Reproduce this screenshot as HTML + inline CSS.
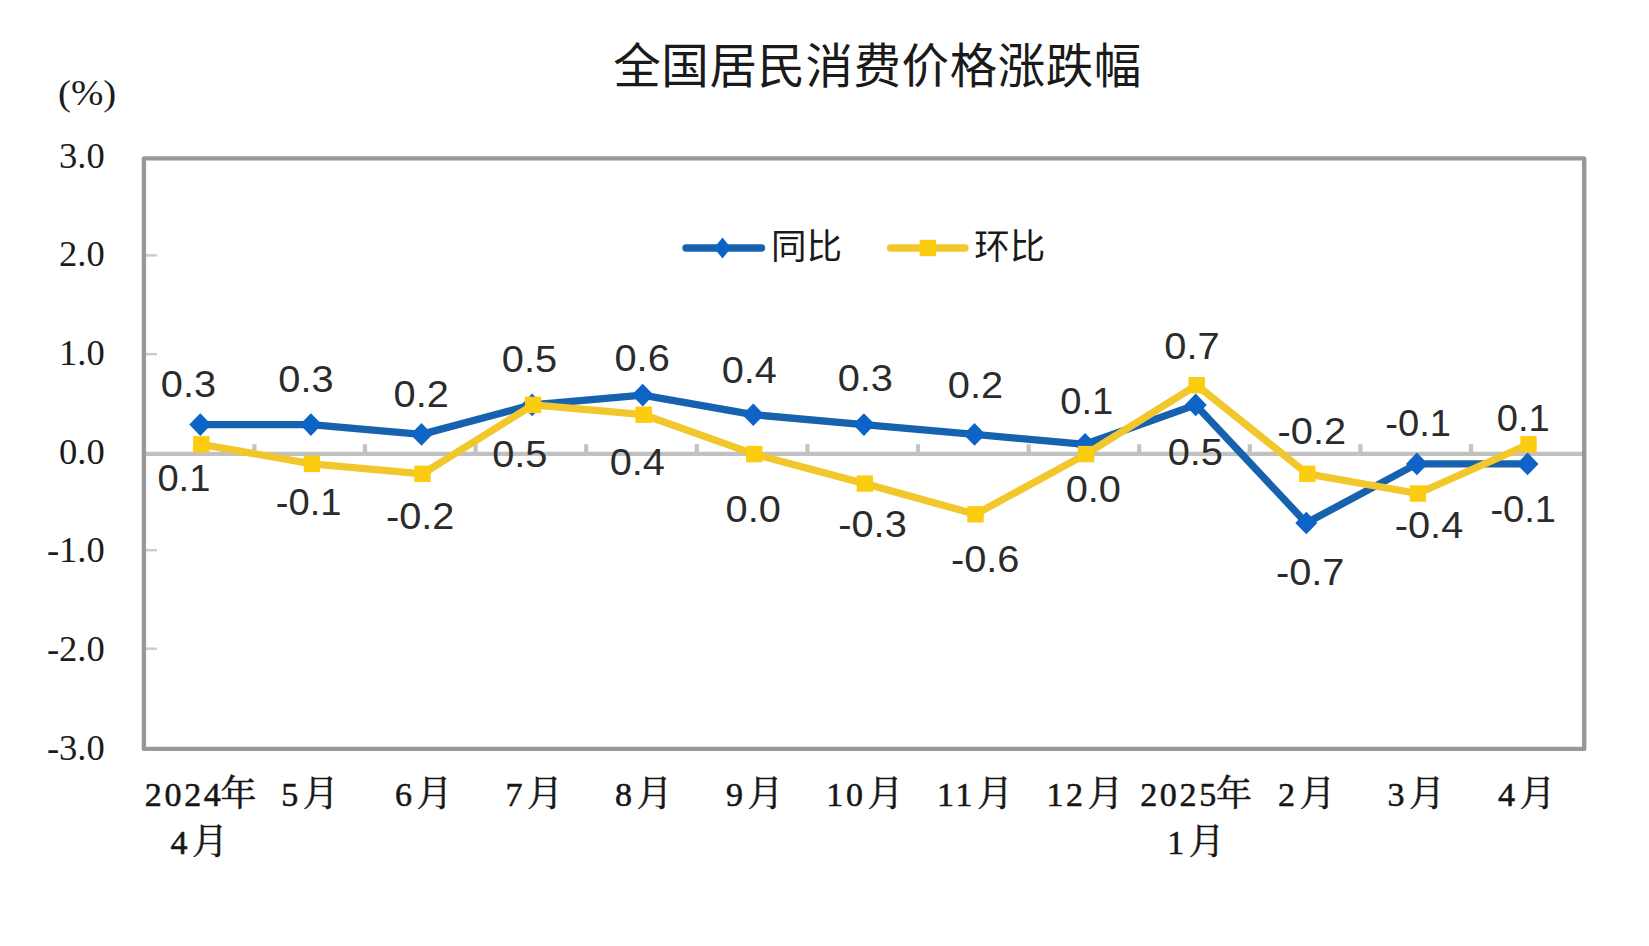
<!DOCTYPE html>
<html lang="zh-CN"><head><meta charset="utf-8"><title>全国居民消费价格涨跌幅</title>
<style>
html,body{margin:0;padding:0;background:#fff;}
body{width:1649px;height:946px;overflow:hidden;}
svg{display:block;}
.ttl{font-family:"Liberation Sans","Noto Sans CJK SC",sans-serif;font-size:47.5px;letter-spacing:0.55px;fill:#1a1a1a;}
.leg{font-family:"Liberation Sans","Noto Sans CJK SC",sans-serif;font-size:35.5px;fill:#1a1a1a;}
.yl{font-family:"Liberation Serif","Noto Serif CJK SC",serif;font-size:35px;fill:#1c1c1c;text-anchor:end;}
.xl{font-family:"Liberation Serif","Noto Serif CJK SC",serif;font-size:36px;fill:#161616;stroke:#161616;stroke-width:0.55px;text-anchor:end;font-weight:400;}
.xd{font-size:34px;letter-spacing:2.7px;}
.dl{font-family:"Liberation Sans","Noto Sans CJK SC",sans-serif;font-size:37px;fill:#2b2b2b;text-anchor:middle;}
</style></head><body>
<svg width="1649" height="946" viewBox="0 0 1649 946">
<rect x="0" y="0" width="1649" height="946" fill="#ffffff"/>
<text class="ttl" text-anchor="middle" x="877.6" y="83">全国居民消费价格涨跌幅</text>
<line x1="143.9" y1="255.4" x2="156.9" y2="255.4" stroke="#cacaca" stroke-width="2.4"/>
<line x1="143.9" y1="354.1" x2="156.9" y2="354.1" stroke="#cacaca" stroke-width="2.4"/>
<line x1="143.9" y1="550.2" x2="156.9" y2="550.2" stroke="#cacaca" stroke-width="2.4"/>
<line x1="143.9" y1="648.7" x2="156.9" y2="648.7" stroke="#cacaca" stroke-width="2.4"/>
<line x1="143.9" y1="453.8" x2="1584.2" y2="453.8" stroke="#c1c1c1" stroke-width="4.2"/>
<line x1="254.4" y1="444.2" x2="254.4" y2="453" stroke="#c2c4c2" stroke-width="4.2"/>
<line x1="365.0" y1="444.2" x2="365.0" y2="453" stroke="#c2c4c2" stroke-width="4.2"/>
<line x1="475.6" y1="444.2" x2="475.6" y2="453" stroke="#c2c4c2" stroke-width="4.2"/>
<line x1="586.2" y1="444.2" x2="586.2" y2="453" stroke="#c2c4c2" stroke-width="4.2"/>
<line x1="696.8" y1="444.2" x2="696.8" y2="453" stroke="#c2c4c2" stroke-width="4.2"/>
<line x1="807.4" y1="444.2" x2="807.4" y2="453" stroke="#c2c4c2" stroke-width="4.2"/>
<line x1="918.0" y1="444.2" x2="918.0" y2="453" stroke="#c2c4c2" stroke-width="4.2"/>
<line x1="1028.6" y1="444.2" x2="1028.6" y2="453" stroke="#c2c4c2" stroke-width="4.2"/>
<line x1="1139.2" y1="444.2" x2="1139.2" y2="453" stroke="#c2c4c2" stroke-width="4.2"/>
<line x1="1249.8" y1="444.2" x2="1249.8" y2="453" stroke="#c2c4c2" stroke-width="4.2"/>
<line x1="1360.4" y1="444.2" x2="1360.4" y2="453" stroke="#c2c4c2" stroke-width="4.2"/>
<line x1="1471.0" y1="444.2" x2="1471.0" y2="453" stroke="#c2c4c2" stroke-width="4.2"/>
<rect x="143.9" y="158.4" width="1440.3" height="590.5" fill="none" stroke="#989898" stroke-width="4.4" stroke-linejoin="round"/>
<text class="yl" transform="translate(104.8 168.4) scale(1.045 1)">3.0</text>
<text class="yl" transform="translate(104.8 265.9) scale(1.045 1)">2.0</text>
<text class="yl" transform="translate(104.8 365.2) scale(1.045 1)">1.0</text>
<text class="yl" transform="translate(104.8 463.5) scale(1.045 1)">0.0</text>
<text class="yl" transform="translate(104.8 561.6) scale(1.045 1)">-1.0</text>
<text class="yl" transform="translate(104.8 660.8) scale(1.045 1)">-2.0</text>
<text class="yl" transform="translate(104.8 759.8) scale(1.045 1)">-3.0</text>
<text class="yl" style="text-anchor:start;font-size:36px" transform="translate(58 105) scale(1.08 1)">(%)</text>
<polyline points="200.3,424.6 310.9,424.6 421.5,434.4 532.1,404.9 642.7,395.1 753.3,414.7 863.9,424.6 974.5,434.4 1085.1,444.3 1195.7,404.9 1306.3,523.0 1416.9,463.9 1527.5,463.9" fill="none" stroke="#1762ae" stroke-width="7.3" stroke-linejoin="round" stroke-linecap="round"/>
<path d="M200.3 413.3L211.3 424.6L200.3 435.9L189.3 424.6Z" fill="#0d63c6"/>
<path d="M310.9 413.3L321.9 424.6L310.9 435.9L299.9 424.6Z" fill="#0d63c6"/>
<path d="M421.5 423.1L432.5 434.4L421.5 445.7L410.5 434.4Z" fill="#0d63c6"/>
<path d="M532.1 393.6L543.1 404.9L532.1 416.2L521.1 404.9Z" fill="#0d63c6"/>
<path d="M642.7 383.8L653.7 395.1L642.7 406.4L631.7 395.1Z" fill="#0d63c6"/>
<path d="M753.3 403.4L764.3 414.7L753.3 426.0L742.3 414.7Z" fill="#0d63c6"/>
<path d="M863.9 413.3L874.9 424.6L863.9 435.9L852.9 424.6Z" fill="#0d63c6"/>
<path d="M974.5 423.1L985.5 434.4L974.5 445.7L963.5 434.4Z" fill="#0d63c6"/>
<path d="M1085.1 433.0L1096.1 444.3L1085.1 455.6L1074.1 444.3Z" fill="#0d63c6"/>
<path d="M1195.7 393.6L1206.7 404.9L1195.7 416.2L1184.7 404.9Z" fill="#0d63c6"/>
<path d="M1306.3 511.7L1317.3 523.0L1306.3 534.3L1295.3 523.0Z" fill="#0d63c6"/>
<path d="M1416.9 452.6L1427.9 463.9L1416.9 475.2L1405.9 463.9Z" fill="#0d63c6"/>
<path d="M1527.5 452.6L1538.5 463.9L1527.5 475.2L1516.5 463.9Z" fill="#0d63c6"/>
<polyline points="201.3,444.3 311.9,463.9 422.5,473.8 533.1,404.9 643.7,414.7 754.3,454.1 864.9,483.6 975.5,514.3 1086.1,454.1 1196.7,385.2 1307.3,473.8 1417.9,493.5 1528.5,444.3" fill="none" stroke="#f2c72c" stroke-width="7.3" stroke-linejoin="round" stroke-linecap="round"/>
<rect x="193.1" y="436.1" width="16.4" height="16.4" fill="#fbcc10"/>
<rect x="303.7" y="455.7" width="16.4" height="16.4" fill="#fbcc10"/>
<rect x="414.3" y="465.6" width="16.4" height="16.4" fill="#fbcc10"/>
<rect x="524.9" y="396.7" width="16.4" height="16.4" fill="#fbcc10"/>
<rect x="635.5" y="406.5" width="16.4" height="16.4" fill="#fbcc10"/>
<rect x="746.1" y="445.9" width="16.4" height="16.4" fill="#fbcc10"/>
<rect x="856.7" y="475.4" width="16.4" height="16.4" fill="#fbcc10"/>
<rect x="967.3" y="506.1" width="16.4" height="16.4" fill="#fbcc10"/>
<rect x="1077.9" y="445.9" width="16.4" height="16.4" fill="#fbcc10"/>
<rect x="1188.5" y="377.0" width="16.4" height="16.4" fill="#fbcc10"/>
<rect x="1299.1" y="465.6" width="16.4" height="16.4" fill="#fbcc10"/>
<rect x="1409.7" y="485.3" width="16.4" height="16.4" fill="#fbcc10"/>
<rect x="1520.3" y="436.1" width="16.4" height="16.4" fill="#fbcc10"/>
<line x1="686" y1="248" x2="761.5" y2="248" stroke="#1762ae" stroke-width="7.3" stroke-linecap="round"/>
<path d="M722.5 237.5L731 248L722.5 258.5L714 248Z" fill="#0d63c6"/>
<text class="leg" x="771" y="259">同比</text>
<line x1="890.5" y1="248" x2="965" y2="248" stroke="#f2c72c" stroke-width="7.3" stroke-linecap="round"/>
<rect x="919.6" y="239.8" width="16.4" height="16.4" fill="#fbcc10"/>
<text class="leg" x="974.3" y="259">环比</text>
<text class="dl" transform="translate(188.4 397.2) scale(1.075 1)">0.3</text>
<text class="dl" transform="translate(306.0 391.9) scale(1.075 1)">0.3</text>
<text class="dl" transform="translate(421.2 407.0) scale(1.075 1)">0.2</text>
<text class="dl" transform="translate(529.4 372.4) scale(1.075 1)">0.5</text>
<text class="dl" transform="translate(642.1 371.2) scale(1.075 1)">0.6</text>
<text class="dl" transform="translate(749.3 383.4) scale(1.075 1)">0.4</text>
<text class="dl" transform="translate(865.3 390.8) scale(1.075 1)">0.3</text>
<text class="dl" transform="translate(975.5 397.7) scale(1.075 1)">0.2</text>
<text class="dl" transform="translate(1086.8 414.0) scale(1.03 1)">0.1</text>
<text class="dl" transform="translate(1195.3 465.2) scale(1.075 1)">0.5</text>
<text class="dl" transform="translate(1310.2 584.9) scale(1.075 1)">-0.7</text>
<text class="dl" transform="translate(1418.1 435.9) scale(1.03 1)">-0.1</text>
<text class="dl" transform="translate(1523.2 521.8) scale(1.03 1)">-0.1</text>
<text class="dl" transform="translate(183.9 491.3) scale(1.03 1)">0.1</text>
<text class="dl" transform="translate(308.6 515.0) scale(1.03 1)">-0.1</text>
<text class="dl" transform="translate(420.2 529.3) scale(1.075 1)">-0.2</text>
<text class="dl" transform="translate(519.8 467.3) scale(1.075 1)">0.5</text>
<text class="dl" transform="translate(637.3 474.6) scale(1.075 1)">0.4</text>
<text class="dl" transform="translate(753.2 522.2) scale(1.075 1)">0.0</text>
<text class="dl" transform="translate(872.5 536.8) scale(1.075 1)">-0.3</text>
<text class="dl" transform="translate(985.2 572.4) scale(1.075 1)">-0.6</text>
<text class="dl" transform="translate(1093.3 501.7) scale(1.075 1)">0.0</text>
<text class="dl" transform="translate(1192.0 359.1) scale(1.075 1)">0.7</text>
<text class="dl" transform="translate(1311.8 444.0) scale(1.075 1)">-0.2</text>
<text class="dl" transform="translate(1429.0 537.5) scale(1.075 1)">-0.4</text>
<text class="dl" transform="translate(1523.2 431.4) scale(1.03 1)">0.1</text>
<text class="xl" x="256.6" y="805.5"><tspan class="xd">2024</tspan><tspan dx="-3.0">年</tspan></text>
<text class="xl" x="228.1" y="853.5"><tspan class="xd">4</tspan><tspan dx="1.8">月</tspan></text>
<text class="xl" x="338.7" y="805.5"><tspan class="xd">5</tspan><tspan dx="1.8">月</tspan></text>
<text class="xl" x="452.5" y="805.5"><tspan class="xd">6</tspan><tspan dx="1.8">月</tspan></text>
<text class="xl" x="562.9" y="805.5"><tspan class="xd">7</tspan><tspan dx="1.8">月</tspan></text>
<text class="xl" x="672.6" y="805.5"><tspan class="xd">8</tspan><tspan dx="1.8">月</tspan></text>
<text class="xl" x="783.4" y="805.5"><tspan class="xd">9</tspan><tspan dx="1.8">月</tspan></text>
<text class="xl" x="903.5" y="805.5"><tspan class="xd">10</tspan><tspan dx="1.8">月</tspan></text>
<text class="xl" x="1012.9" y="805.5"><tspan class="xd">11</tspan><tspan dx="1.8">月</tspan></text>
<text class="xl" x="1123.6" y="805.5"><tspan class="xd">12</tspan><tspan dx="1.8">月</tspan></text>
<text class="xl" x="1252.0" y="805.5"><tspan class="xd">2025</tspan><tspan dx="-3.0">年</tspan></text>
<text class="xl" x="1224.8" y="853.5"><tspan class="xd">1</tspan><tspan dx="1.8">月</tspan></text>
<text class="xl" x="1335.5" y="805.5"><tspan class="xd">2</tspan><tspan dx="1.8">月</tspan></text>
<text class="xl" x="1444.9" y="805.5"><tspan class="xd">3</tspan><tspan dx="1.8">月</tspan></text>
<text class="xl" x="1555.6" y="805.5"><tspan class="xd">4</tspan><tspan dx="1.8">月</tspan></text>
</svg></body></html>
